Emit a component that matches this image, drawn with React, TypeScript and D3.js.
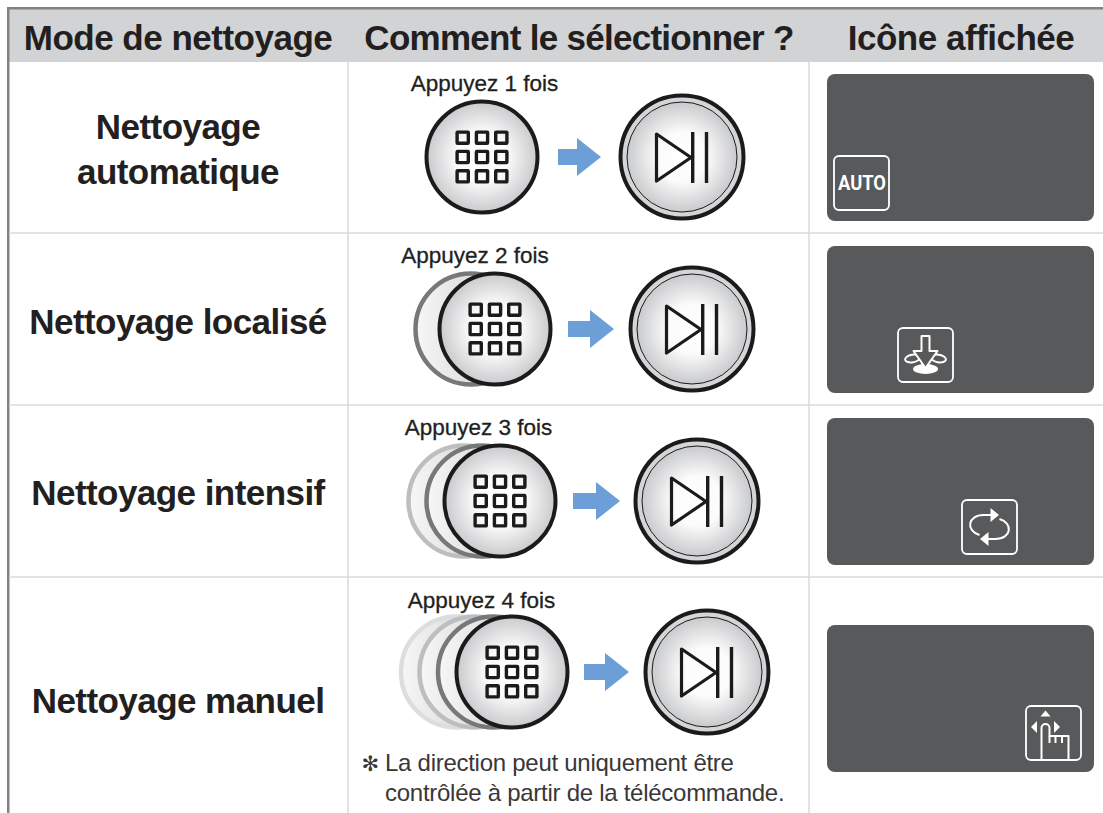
import * as d3 from 'd3';

const HEADERS = ['Mode de nettoyage', 'Comment le sélectionner ?', 'Icône affichée'];
const MODES = [['Nettoyage', 'automatique'], ['Nettoyage localisé'], ['Nettoyage intensif'], ['Nettoyage manuel']];
const PRESSES = [1, 2, 3, 4];
const PRESS_LABELS = ['Appuyez 1 fois', 'Appuyez 2 fois', 'Appuyez 3 fois', 'Appuyez 4 fois'];
const ICONS = ['auto', 'spot', 'turbo', 'manual'];
const NOTE = ['La direction peut uniquement être', 'contrôlée à partir de la télécommande.'];

const FONT = '"Liberation Sans", Arial, sans-serif';
const INK = '#231f20';
const PANEL = '#58595b';
const RULE = '#d9dadb';

// layout, one entry per row
const LAYOUT = [
  { cy: 157, gridX: 482, playX: 682, arrowX: 558, arrowLen: 43, labelX: 484.5, labelY: 91, ghostStep: 0, panelY: 74, boxX: 834, boxY: 156, modeY: [139, 184] },
  { cy: 329, gridX: 495, playX: 692, arrowX: 568, arrowLen: 46, labelX: 475, labelY: 263, ghostStep: 24, panelY: 246, boxX: 898, boxY: 328, modeY: [334] },
  { cy: 501, gridX: 500, playX: 697, arrowX: 573, arrowLen: 47, labelX: 478.5, labelY: 435, ghostStep: 18, panelY: 418, boxX: 962, boxY: 500, modeY: [505] },
  { cy: 672, gridX: 512, playX: 707, arrowX: 584, arrowLen: 45, labelX: 481.5, labelY: 608, ghostStep: 18.5, panelY: 625, boxX: 1026, boxY: 706, modeY: [713] },
];

const ghostStroke = d3.scaleLinear<string>().domain([1, 2, 3]).range(['#77787a', '#bdbec0', '#dcdddd']);

function GridButton({ x, y }: { x: number; y: number }) {
  return (
    <g transform={`translate(${x},${y})`}>
      <circle r={55.5} fill="url(#btn)" stroke="#1c1a1b" strokeWidth={4} />
      {d3.range(-1, 2).flatMap((r) =>
        d3.range(-1, 2).map((c) => (
          <rect key={`${r}${c}`} x={c * 19.3 - 5.6} y={r * 19.3 - 5.6} width={11.2} height={11.2} rx={0.5}
            fill="none" stroke="#1c1a1b" strokeWidth={3.4} />
        )),
      )}
    </g>
  );
}

function Ghost({ x, y, level }: { x: number; y: number; level: number }) {
  return <circle cx={x} cy={y} r={55.5} fill="url(#ghost)" stroke={ghostStroke(level)} strokeWidth={4.5} />;
}

function PlayButton({ x, y }: { x: number; y: number }) {
  const tri = d3.path();
  tri.moveTo(-25.5, -23);
  tri.lineTo(9, 0.5);
  tri.lineTo(-25.5, 24);
  tri.closePath();
  return (
    <g transform={`translate(${x},${y})`}>
      <circle r={61.5} fill="#d4d5d6" stroke="#1c1a1b" strokeWidth={4} />
      <circle r={55} fill="url(#btn)" stroke="#1c1a1b" strokeWidth={1} />
      <path d={tri.toString()} fill="none" stroke="#1c1a1b" strokeWidth={3.2} strokeLinejoin="round" />
      <rect x={9} y={-25} width={3.4} height={51} fill="#1c1a1b" />
      <rect x={22.8} y={-25} width={3.4} height={51} fill="#1c1a1b" />
    </g>
  );
}

function Arrow({ x, y, len }: { x: number; y: number; len: number }) {
  const neck = x + len - 24;
  const p = d3.path();
  p.moveTo(x, y - 8);
  p.lineTo(neck, y - 8);
  p.lineTo(neck, y - 19);
  p.lineTo(x + len, y);
  p.lineTo(neck, y + 19);
  p.lineTo(neck, y + 8);
  p.lineTo(x, y + 8);
  p.closePath();
  return <path d={p.toString()} fill="#6c9fd7" />;
}

function IconGlyph({ name }: { name: string }) {
  const line = { fill: 'none', stroke: '#fff', strokeWidth: 2, strokeLinejoin: 'round' as const };
  if (name === 'auto') {
    return (
      <text x={0.5} y={7} textAnchor="middle" fontFamily={'Roboto, sans-serif'} fontWeight={700} fontSize={19.5} fill="#fff" textLength={48} lengthAdjust="spacingAndGlyphs">
        AUTO
      </text>
    );
  }
  if (name === 'spot') {
    return (
      <g>
        <ellipse cx={0} cy={14} rx={12.5} ry={5} fill="#fff" />
        <ellipse cx={-13} cy={3.5} rx={7.5} ry={3.8} transform="rotate(-10 -13 3.500)" {...line} />
        <ellipse cx={13} cy={3.5} rx={7.5} ry={3.8} transform="rotate(10 13 3.500)" {...line} />
        <path d="M-4-19H4V-4H12L0 13-12-4H-4Z" fill={PANEL} stroke="#fff" strokeWidth={2} strokeLinejoin="round" />
      </g>
    );
  }
  if (name === 'turbo') {
    return (
      <g>
        <path d="M-10 8C-24 4-22-12-6-12H2" {...line} />
        <path d="M10-8C24-4 22 12 6 12H-2" {...line} />
        <path d="M1-19L9.500-12 1-5Z" fill="#fff" />
        <path d="M-1 5L-9.500 12-1 19Z" fill="#fff" />
      </g>
    );
  }
  return (
    <g>
      <path d="M-8-22.500L-3-16.500H-13Z" fill="#fff" />
      <path d="M-22.500-6L-16.500-12V0Z" fill="#fff" />
      <path d="M6.500-6L0.500-12V0Z" fill="#fff" />
      <path d="M-12 26V-5A4 4 0 0 1-4-5V3H15V26" {...line} />
      <path d="M-4 3V10M2 3V10M8.500 3V10" {...line} />
    </g>
  );
}

export default function App() {
  return (
    <svg width={1103} height={813} style={{ position: 'absolute', left: 0, top: 0, background: '#fff' }}>
      <defs>
        <radialGradient id="btn" cx="50%" cy="50%" r="50%">
          <stop offset="0%" stopColor="#ffffff" />
          <stop offset="45%" stopColor="#fbfbfb" />
          <stop offset="100%" stopColor="#c9cacc" />
        </radialGradient>
        <linearGradient id="ghost" x1="0" x2="1" y1="0" y2="0">
          <stop offset="0%" stopColor="#f7f7f7" />
          <stop offset="100%" stopColor="#c4c5c6" />
        </linearGradient>
      </defs>

      <rect x={8} y={8} width={1095} height={54} fill="#d1d3d4" />
      <rect x={7} y={7} width={1096} height={2.5} fill="#808285" />
      <rect x={7} y={7} width={2.5} height={806} fill="#808285" />
      <line x1={348} x2={348} y1={62} y2={813} stroke={RULE} strokeWidth={1.5} />
      <line x1={809} x2={809} y1={62} y2={813} stroke={RULE} strokeWidth={1.5} />
      {[233, 405, 577].map((y) => (
        <line key={y} x1={9} x2={1103} y1={y} y2={y} stroke={RULE} strokeWidth={1.5} />
      ))}

      <g fontFamily={FONT} fontWeight={700} fontSize={35} fill={INK} textAnchor="middle">
        {HEADERS.map((h, i) => (
          <text key={h} x={[178, 579, 961][i]} y={50} letterSpacing={[-0.5, -0.72, -0.5][i]}>{h}</text>
        ))}
      </g>

      {MODES.map((lines, i) => (
        <g key={i} fontFamily={FONT} fontWeight={700} fontSize={35} fill={INK} textAnchor="middle" letterSpacing={-0.55}>
          {lines.map((l, j) => (
            <text key={l} x={178} y={LAYOUT[i].modeY[j]}>{l}</text>
          ))}
        </g>
      ))}

      {PRESSES.map((count, i) => {
        const row = LAYOUT[i];
        const levels = d3.range(count - 1, 0, -1);
        return (
          <g key={count}>
            <text x={row.labelX} y={row.labelY} textAnchor="middle" fontFamily={FONT} fontSize={22.5} fill={INK} stroke={INK} strokeWidth={0.3}>
              {PRESS_LABELS[i]}
            </text>
            {levels.map((lvl) => (
              <Ghost key={lvl} x={row.gridX - lvl * row.ghostStep} y={row.cy} level={lvl} />
            ))}
            <GridButton x={row.gridX} y={row.cy} />
            <Arrow x={row.arrowX} y={row.cy} len={row.arrowLen} />
            <PlayButton x={row.playX} y={row.cy} />
            <rect x={827} y={row.panelY} width={267} height={147} rx={8} fill={PANEL} />
            <rect x={row.boxX} y={row.boxY} width={55} height={54} rx={5} fill="none" stroke="#fff" strokeWidth={1.8} />
            <g transform={`translate(${row.boxX + 27.5},${row.boxY + 27})`}>
              <IconGlyph name={ICONS[i]} />
            </g>
          </g>
        );
      })}

      <text x={361.5} y={771} fontFamily={'"DejaVu Sans", sans-serif'} fontSize={21} fill="#3a3738">✻</text>
      <g fontFamily={FONT} fontSize={24} fill="#3a3738" letterSpacing={-0.27}>
        {NOTE.map((n, i) => (
          <text key={n} x={385} y={771 + i * 30}>{n}</text>
        ))}
      </g>
    </svg>
  );
}
